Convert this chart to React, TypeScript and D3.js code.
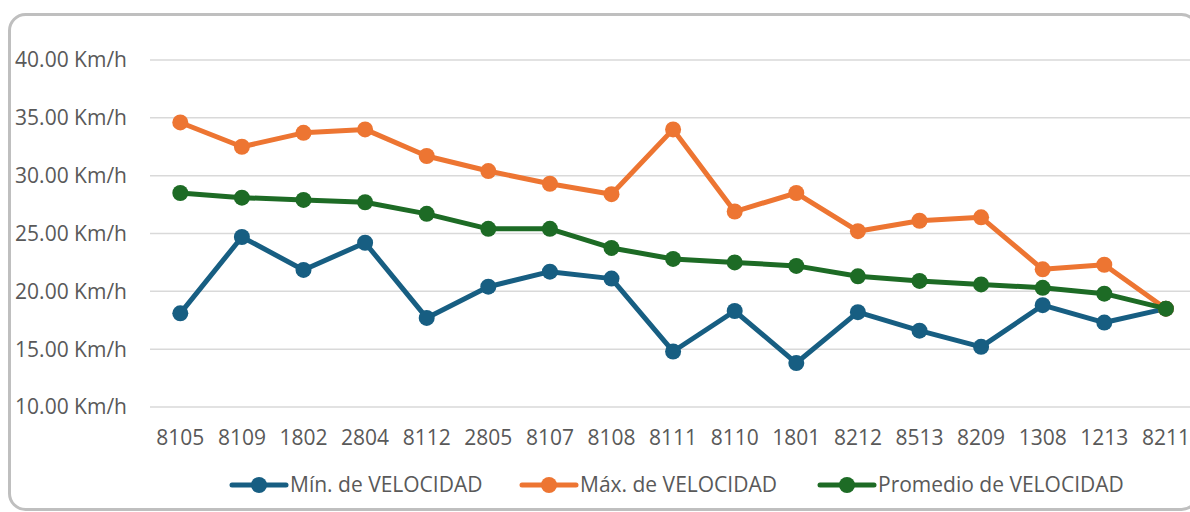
import React from 'react'
import * as d3 from 'd3'

const categories = ['8105', '8109', '1802', '2804', '8112', '2805', '8107', '8108', '8111', '8110', '1801', '8212', '8513', '8209', '1308', '1213', '8211']
const minVel = [18.1, 24.7, 21.85, 24.2, 17.7, 20.4, 21.7, 21.1, 14.8, 18.3, 13.8, 18.2, 16.6, 15.2, 18.8, 17.3, 18.5]
const maxVel = [34.6, 32.5, 33.7, 34.0, 31.7, 30.4, 29.3, 28.4, 34.0, 26.9, 28.5, 25.2, 26.1, 26.4, 21.9, 22.3, 18.5]
const avgVel = [28.5, 28.1, 27.9, 27.7, 26.7, 25.4, 25.4, 23.75, 22.8, 22.5, 22.2, 21.3, 20.9, 20.6, 20.3, 19.8, 18.5]
const yTicks = [10, 15, 20, 25, 30, 35, 40]
const seriesNames = ['Mín. de VELOCIDAD', 'Máx. de VELOCIDAD', 'Promedio de VELOCIDAD']

const W = 1190
const H = 512
const font = '"Open Sans", "Noto Sans", sans-serif'
const textColor = '#595959'

const App = () => {
  const x = d3.scaleBand().domain(categories).range([149.5, 149.5 + 61.6 * categories.length])
  const y = d3.scaleLinear().domain([10, 40]).range([407, 60])
  const cx = (c: string) => (x(c) as number) + x.bandwidth() / 2

  const series = [
    { name: seriesNames[0], values: minVel, color: '#175e82' },
    { name: seriesNames[1], values: maxVel, color: '#ed7532' },
    { name: seriesNames[2], values: avgVel, color: '#1d6b25' },
  ]

  const line = d3.line<number>()
    .x((d, i) => cx(categories[i]))
    .y(d => y(d))

  // legend positions
  const legendX = [232, 522, 820]

  return (
    <svg width={W} height={H} style={{ position: 'absolute', left: 0, top: 0 }} fontFamily={font}>
      <rect x={0} y={0} width={W} height={H} fill="#fff" />
      <rect x={9.5} y={14.5} width={1188} height={495} rx={16} fill="#fff" stroke="#bfbfbf" strokeWidth={3} />

      {/* grid + y labels */}
      {yTicks.map(t => (
        <g key={t}>
          <line x1={150} x2={W} y1={y(t)} y2={y(t)} stroke="#d9d9d9" strokeWidth={1.5} />
          <text x={127} y={y(t)} dy="0.35em" textAnchor="end" fontSize={21} fill={textColor}>
            {d3.format('.2f')(t) + ' Km/h'}
          </text>
        </g>
      ))}

      {/* x labels */}
      {categories.map(c => (
        <text key={c} x={cx(c)} y={438} dy="0.35em" textAnchor="middle" fontSize={21} fill={textColor}>{c}</text>
      ))}

      {/* series */}
      {series.map(s => (
        <g key={s.name}>
          <path d={line(s.values) || ''} fill="none" stroke={s.color} strokeWidth={5} strokeLinejoin="round" />
          {s.values.map((v, i) => (
            <circle key={i} cx={cx(categories[i])} cy={y(v)} r={8} fill={s.color} />
          ))}
        </g>
      ))}

      {/* legend */}
      {series.map((s, i) => (
        <g key={s.name} transform={`translate(${legendX[i]},485)`}>
          <line x1={0} x2={54} y1={0} y2={0} stroke={s.color} strokeWidth={5} strokeLinecap="round" />
          <circle cx={27} cy={0} r={8} fill={s.color} />
          <text x={58} y={0} dy="0.35em" fontSize={21} fill={textColor}>{s.name}</text>
        </g>
      ))}
    </svg>
  )
}

export default App
